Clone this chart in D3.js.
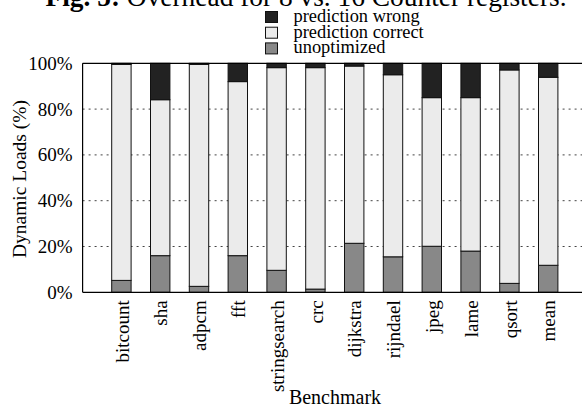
<!DOCTYPE html>
<html>
<head>
<meta charset="utf-8">
<script src="https://cdn.jsdelivr.net/npm/d3@7"></script>
<style>
  html, body { margin: 0; padding: 0; background: #fff; }
  svg { display: block; font-family: "Liberation Serif", "DejaVu Serif", serif; }
</style>
</head>
<body>
<svg id="chart" width="582" height="409"></svg>
<script>
// Benchmarks along the x axis
const benchmarks = ["bitcount", "sha", "adpcm", "fft", "stringsearch", "crc",
                    "dijkstra", "rijndael", "jpeg", "lame", "qsort", "mean"];

// Share of dynamic loads (%) per benchmark, stacked bottom to top
const unoptimized       = [5.2, 16.0, 2.6, 16.0, 9.6, 1.4, 21.4, 15.5, 20.1, 18.0, 3.9, 11.8];
const predictionCorrect = [94.3, 68.1, 96.9, 76.0, 88.5, 96.7, 77.4, 79.5, 64.9, 67.0, 93.2, 82.1];
const predictionWrong   = [0.5, 15.9, 0.5, 8.0, 1.9, 1.9, 1.2, 5.0, 15.0, 15.0, 2.9, 6.1];

const yTicks = [0, 20, 40, 60, 80, 100];
const gridTicks = [20, 40, 60, 80];

const seriesKeys = ["unoptimized", "prediction correct", "prediction wrong"];
const seriesColors = {
  "unoptimized": "#888888",
  "prediction correct": "#ebebeb",
  "prediction wrong": "#222222"
};
const legendOrder = ["prediction wrong", "prediction correct", "unoptimized"];

const rows = benchmarks.map((b, i) => ({
  name: b,
  index: i,
  "unoptimized": unoptimized[i],
  "prediction correct": predictionCorrect[i],
  "prediction wrong": predictionWrong[i]
}));

const svg = d3.select("#chart");

const x = d3.scaleLinear().domain([-1, 12]).range([82.6, 587]);
const y = d3.scaleLinear().domain([0, 100]).range([292.3, 63.3]);
const barW = x(0.5) - x(0);

// dotted horizontal grid
svg.append("g")
  .selectAll("line")
  .data(gridTicks)
  .join("line")
  .attr("x1", x(-1)).attr("x2", x(12))
  .attr("y1", d => y(d)).attr("y2", d => y(d))
  .attr("stroke", "#444")
  .attr("stroke-width", 1)
  .attr("stroke-dasharray", "2,4");

// stacked bars
const stacked = d3.stack().keys(seriesKeys)(rows);
svg.append("g")
  .selectAll("g")
  .data(stacked)
  .join("g")
  .attr("fill", s => seriesColors[s.key])
  .selectAll("rect")
  .data(s => s)
  .join("rect")
  .attr("x", d => x(d.data.index) - barW / 2)
  .attr("width", barW)
  .attr("y", d => y(d[1]))
  .attr("height", d => y(d[0]) - y(d[1]))
  .attr("stroke", "#111")
  .attr("stroke-width", 1);

// frame: left, bottom and top lines
const frame = svg.append("g").attr("stroke", "#000").attr("stroke-width", 1.2);
frame.append("line").attr("x1", x(-1)).attr("x2", x(-1)).attr("y1", y(0)).attr("y2", y(100));
frame.append("line").attr("x1", x(-1)).attr("x2", x(12)).attr("y1", y(0)).attr("y2", y(0));
frame.append("line").attr("x1", x(-1)).attr("x2", x(12)).attr("y1", y(100)).attr("y2", y(100));

// y axis labels
const yAxis = d3.axisLeft(y).tickValues(yTicks).tickFormat(d => d + "%").tickSize(0).tickPadding(10);
svg.append("g")
  .attr("transform", `translate(${x(-1)},0)`)
  .call(yAxis)
  .call(g => g.select(".domain").remove())
  .call(g => g.selectAll("text")
    .attr("font-family", "Liberation Serif, serif")
    .attr("font-size", 19)
    .attr("fill", "#000"));

// x axis labels, rotated
const xAxis = d3.axisBottom(x).tickValues(d3.range(benchmarks.length))
  .tickFormat(i => benchmarks[i]).tickSize(0).tickPadding(0);
svg.append("g")
  .attr("transform", `translate(0,${y(0)})`)
  .call(xAxis)
  .call(g => g.select(".domain").remove())
  .call(g => g.selectAll("text")
    .attr("font-family", "Liberation Serif, serif")
    .attr("font-size", 19)
    .attr("fill", "#000")
    .attr("text-anchor", "end")
    .attr("dy", "0.35em")
    .attr("transform", "translate(0,8) rotate(-90)")
    .attr("x", 0).attr("y", 0));

// axis titles
svg.append("text")
  .attr("transform", `translate(25.5,179) rotate(-90)`)
  .attr("text-anchor", "middle")
  .attr("font-size", 19.5)
  .text("Dynamic Loads (%)");

svg.append("text")
  .attr("x", 335).attr("y", 403.5)
  .attr("text-anchor", "middle")
  .attr("font-size", 20)
  .text("Benchmark");

// title, clipped by the top of the page
const title = svg.append("text")
  .attr("x", 306).attr("y", 6)
  .attr("text-anchor", "middle")
  .attr("font-size", 27.4);
title.append("tspan").attr("font-weight", "bold").text("Fig. 5:");
title.append("tspan").text(" Overhead for 8 vs. 16 Counter registers.");

// legend
const legend = svg.append("g")
  .selectAll("g")
  .data(legendOrder)
  .join("g")
  .attr("transform", (d, i) => `translate(265.5,${17 + i * 15.7})`);
legend.append("rect")
  .attr("x", 0).attr("y", -5.5)
  .attr("width", 12).attr("height", 11)
  .attr("fill", d => seriesColors[d])
  .attr("stroke", "#111")
  .attr("stroke-width", 1);
legend.append("text")
  .attr("x", 28).attr("y", 5)
  .attr("font-size", 18.4)
  .text(d => d);
</script>
</body>
</html>
